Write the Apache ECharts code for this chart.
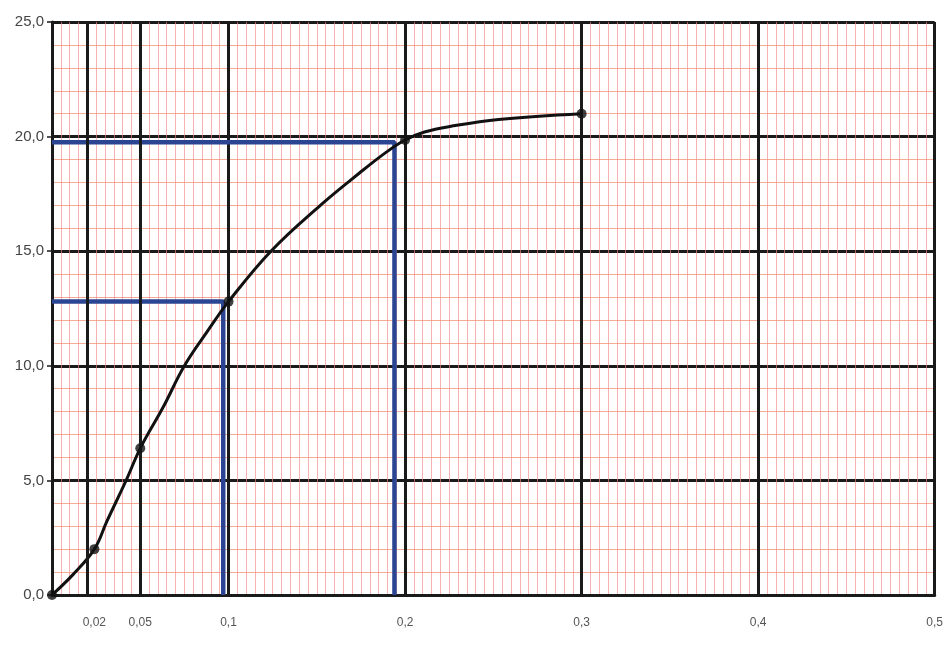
<!DOCTYPE html>
<html>
<head>
<meta charset="utf-8">
<script src="https://cdn.jsdelivr.net/npm/echarts@6/dist/echarts.min.js"></script>
<style>
html,body{margin:0;padding:0;background:#fff;}
#chart{width:946px;height:652px;}
</style>
</head>
<body>
<div id="chart"></div>
<script>
// measured points (dots)
const xValues = [0, 0.024, 0.05, 0.1, 0.2, 0.3];
const yValues = [0, 2.0, 6.4, 12.8, 19.85, 21.0];
// hand-drawn curve
const curveX = [0, 0.012, 0.024, 0.031, 0.042, 0.05, 0.063, 0.075, 0.088, 0.1, 0.124, 0.152, 0.174, 0.189, 0.2, 0.211, 0.226, 0.253, 0.3];
const curveY = [0, 0.9, 2.0, 3.2, 5.0, 6.4, 8.2, 10.0, 11.5, 12.8, 15.0, 17.0, 18.4, 19.3, 19.85, 20.2, 20.45, 20.75, 21.0];
// x tick positions and their printed labels
const xTickValues = [0.024, 0.05, 0.1, 0.2, 0.3, 0.4, 0.5];
const xTickLabels = ['0,02', '0,05', '0,1', '0,2', '0,3', '0,4', '0,5'];
// extra bold vertical lines (not on the 0.1 grid)
const extraVerticals = [0.024, 0.05];
// blue reading lines: [x, y]
const blueReadA = [0.097, 12.8];
const blueReadB = [0.194, 19.75];

const chart = echarts.init(document.getElementById('chart'));
const dots = xValues.map((x, i) => [x, yValues[i]]);
const curve = curveX.map((x, i) => [x, curveY[i]]);
const blueA = [[0, blueReadA[1]], [blueReadA[0], blueReadA[1]], [blueReadA[0], 0]];
const blueB = [[0, blueReadB[1]], [blueReadB[0], blueReadB[1]], [blueReadB[0], 0]];

chart.setOption({
  animation: false,
  backgroundColor: '#ffffff',
  grid: { left: 52, right: 6, top: 22, bottom: 57 },
  xAxis: {
    type: 'value', min: 0, max: 0.5, interval: 0.1,
    axisLine: { show: true, onZero: false, lineStyle: { color: '#1a1a1a', width: 3 } },
    axisTick: { show: false },
    axisLabel: {
      customValues: xTickValues,
      margin: 22,
      color: '#555', fontSize: 12, fontFamily: 'Liberation Sans, Arial, sans-serif',
      formatter: v => {
        const i = xTickValues.findIndex(t => Math.abs(t - v) < 1e-9);
        return i >= 0 ? xTickLabels[i] : '';
      }
    },
    splitLine: { show: true, lineStyle: { color: '#1a1a1a', width: 3 } },
    minorTick: { show: false, splitNumber: 20 },
    minorSplitLine: { show: true, lineStyle: { color: '#f28a8a', width: 1, opacity: 0.65 } }
  },
  yAxis: {
    type: 'value', min: 0, max: 25, interval: 5,
    axisLine: { show: true, lineStyle: { color: '#1a1a1a', width: 3 } },
    axisTick: { show: true, length: 5, lineStyle: { color: '#1a1a1a', width: 1.5 } },
    axisLabel: {
      margin: 8, color: '#444', fontSize: 15, fontFamily: 'Liberation Sans, Arial, sans-serif',
      formatter: v => v.toFixed(1).replace('.', ',')
    },
    splitLine: { show: true, lineStyle: { color: '#1a1a1a', width: 3 } },
    minorTick: { show: false, splitNumber: 5 },
    minorSplitLine: { show: true, lineStyle: { color: '#f4967a', width: 1, opacity: 0.8 } }
  },
  series: [
    {
      type: 'line', data: [], silent: true,
      markLine: {
        symbol: 'none', silent: true, label: { show: false },
        lineStyle: { color: '#1a1a1a', width: 3, type: 'solid' },
        data: extraVerticals.map(x => ({ xAxis: x }))
      }
    },
    {
      type: 'line', data: blueA, symbol: 'none', z: 3,
      lineStyle: { color: '#2c4593', width: 4.5 }
    },
    {
      type: 'line', data: blueB, symbol: 'none', z: 3,
      lineStyle: { color: '#2c4593', width: 4.5 }
    },
    {
      type: 'line', data: curve, smooth: 0.4, z: 4,
      symbol: 'none',
      lineStyle: { color: '#111', width: 3 }
    },
    {
      type: 'scatter', data: dots, z: 5,
      symbol: 'circle', symbolSize: 10,
      itemStyle: { color: '#111' }
    }
  ]
});
</script>
</body>
</html>
